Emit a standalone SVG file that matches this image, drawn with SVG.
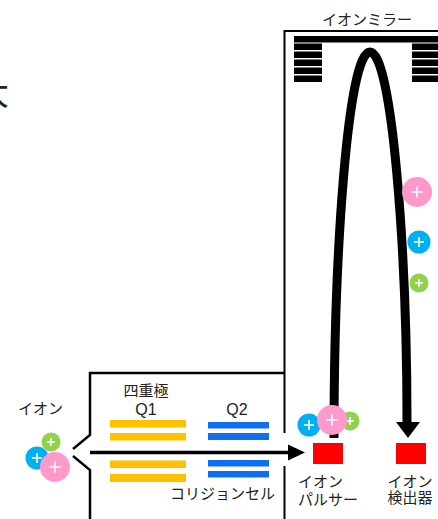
<svg xmlns="http://www.w3.org/2000/svg" width="438" height="519" viewBox="0 0 438 519">
  <style>
    .frame{fill:none;stroke:#000;stroke-width:2}
    .wall{fill:none;stroke:#000;stroke-width:2.5}
    .lbl{font-family:"Noto Sans CJK JP","Noto Sans",sans-serif;font-size:15px;fill:#222}
    .mid{text-anchor:middle}
    .q{font-family:"Liberation Sans","Noto Sans CJK JP",sans-serif;font-size:16px;fill:#222;text-anchor:middle}
    .elec{fill:#000}
    .q1{fill:#FFC000}
    .q2{fill:#0F6FF0}
    .pad{fill:#FF0000}
    .pk{fill:#FF99CC}
    .bl{fill:#00B0F0}
    .gr{fill:#92D050}
    .plus{fill:none;stroke:#fff;stroke-width:1.6}
    .beam{fill:none;stroke:#000;stroke-width:9}
    .shaft{fill:none;stroke:#000;stroke-width:3.5}
  </style>
  <defs>
    <g id="ion-pink"><circle r="15" class="pk"/><path class="plus" d="M-5.5 0H5.5M0-5.5V5.5"/></g>
    <g id="ion-blue"><circle r="11.5" class="bl"/><path class="plus" d="M-5 0H5M0-5V5"/></g>
    <g id="ion-green"><circle r="9.5" class="gr"/><path class="plus" d="M-3.8 0H3.8M0-3.8V3.8"/></g>
  </defs>

  <!-- clipped heading character at the left edge -->
  <text class="lbl" x="9" y="105" style="font-size:34px;text-anchor:end">大</text>

  <!-- housing outlines -->
  <g id="housing">
    <path class="frame" d="M284.5 433V31H440M284.5 466V520"/>
    <path class="wall" d="M73 449L90 435V373H284.5M73 456L90 470V520"/>
  </g>

  <!-- reflectron electrodes -->
  <g id="ion-mirror">
    <rect class="elec" x="294" y="36" width="146" height="6.5"/>
    <rect class="elec" x="294" y="43.5" width="28" height="6.5"/>
    <rect class="elec" x="294" y="51.5" width="28" height="6.5"/>
    <rect class="elec" x="294" y="59.5" width="28" height="6.5"/>
    <rect class="elec" x="294" y="67.5" width="28" height="6.5"/>
    <rect class="elec" x="294" y="75.5" width="28" height="6.5"/>
    <rect class="elec" x="412" y="43.5" width="28" height="6.5"/>
    <rect class="elec" x="412" y="51.5" width="28" height="6.5"/>
    <rect class="elec" x="412" y="59.5" width="28" height="6.5"/>
    <rect class="elec" x="412" y="67.5" width="28" height="6.5"/>
    <rect class="elec" x="412" y="75.5" width="28" height="6.5"/>
    <text class="lbl mid" x="367" y="25">イオンミラー</text>
  </g>

  <!-- quadrupole Q1 -->
  <g id="quadrupole">
    <rect class="q1" x="110" y="420" width="76" height="7.5"/>
    <rect class="q1" x="110" y="433" width="76" height="7.5"/>
    <rect class="q1" x="110" y="460.5" width="76" height="7.5"/>
    <rect class="q1" x="110" y="474" width="76" height="8"/>
    <text class="lbl mid" x="146" y="396">四重極</text>
    <text class="q" x="146" y="415">Q1</text>
  </g>

  <!-- collision cell Q2 -->
  <g id="collision-cell">
    <rect class="q2" x="208" y="422" width="61" height="6.5"/>
    <rect class="q2" x="208" y="433" width="61" height="7"/>
    <rect class="q2" x="208" y="460" width="61" height="6.5"/>
    <rect class="q2" x="208" y="471" width="61" height="6.5"/>
    <text class="q" x="237" y="415">Q2</text>
    <text class="lbl mid" x="222.5" y="499">コリジョンセル</text>
  </g>

  <!-- flight paths -->
  <g id="connectors">
    <path class="shaft" d="M90 452.5H290"/>
    <polygon points="288,444.5 305,452.5 288,460.5"/>
    <path class="beam" d="M334 438C334 250 348 52 370 52C392 52 407 250 407 423"/>
    <polygon points="396,422 420,422 408,438"/>
  </g>

  <g id="ion-pulser">
    <rect class="pad" x="313" y="443" width="30" height="21"/>
    <text class="lbl" x="298" y="487">イオン</text>
    <text class="lbl" x="298" y="505">パルサー</text>
  </g>

  <g id="ion-detector">
    <rect class="pad" x="396" y="443" width="30" height="21"/>
    <text class="lbl mid" x="410" y="487">イオン</text>
    <text class="lbl mid" x="410" y="503">検出器</text>
  </g>

  <!-- ions -->
  <g id="ions-source">
    <text class="lbl mid" x="40.5" y="414">イオン</text>
    <use href="#ion-blue" x="37" y="458"/>
    <use href="#ion-green" x="51" y="442"/>
    <use href="#ion-pink" x="55" y="467"/>
  </g>
  <g id="ions-pulser">
    <use href="#ion-blue" x="309" y="425"/>
    <use href="#ion-green" x="350" y="421"/>
    <use href="#ion-pink" x="332" y="420"/>
  </g>
  <g id="ions-flight">
    <use href="#ion-pink" x="417" y="192"/>
    <use href="#ion-blue" x="419" y="242"/>
    <use href="#ion-green" x="419" y="283"/>
  </g>
</svg>
